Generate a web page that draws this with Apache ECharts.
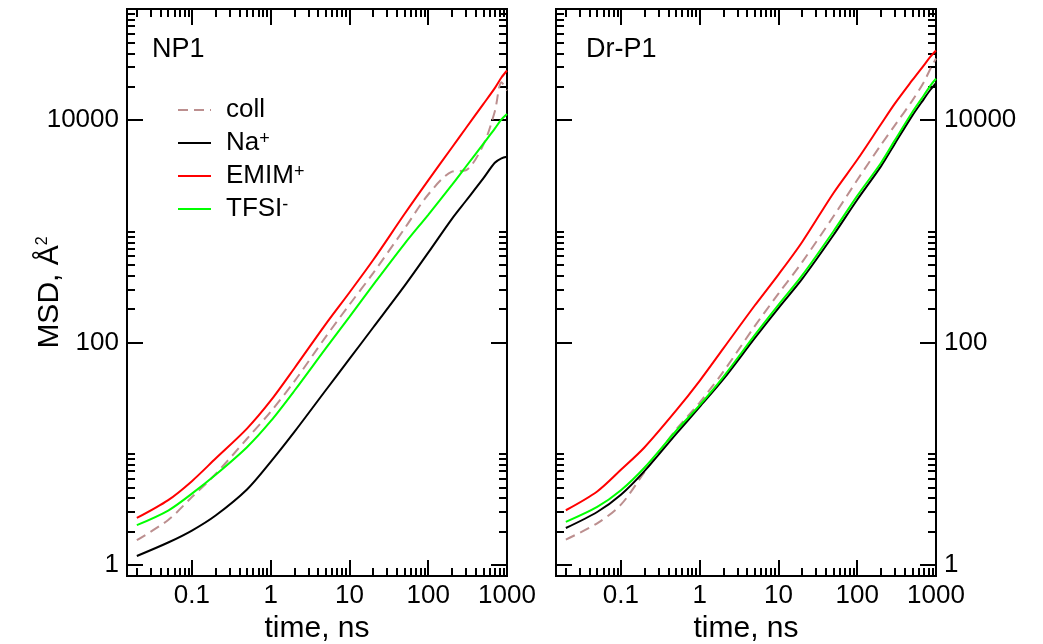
<!DOCTYPE html>
<html>
<head>
<meta charset="utf-8">
<script src="https://cdn.jsdelivr.net/npm/echarts@6/dist/echarts.min.js"></script>
<style>
  html, body { margin: 0; padding: 0; background: #fff; }
  #chart { width: 1043px; height: 644px; }
</style>
</head>
<body>
<div id="chart"></div>
<script>
// time axis (ns) shared by every curve
var timeNs = [0.02, 0.05, 0.1, 0.2, 0.5, 1, 2, 5, 10, 20, 50, 100, 200, 300, 500, 700, 850, 1000];

// MSD, A^2 -- panel NP1
var np1Coll = [1.68, 2.55, 4.1, 6.6, 13.7, 24, 45, 113, 220, 423, 1060, 2150, 3450, 3550, 6000, 12000, 22000, 18500];
var np1Na   = [1.21, 1.6, 2.05, 2.8, 4.8, 8.5, 15.8, 37.4, 71.5, 137, 324, 645, 1300, 1880, 3000, 4150, 4550, 4700];
var np1Emim = [2.66, 3.85, 5.7, 9.1, 16.9, 30.1, 59, 147, 283, 554, 1435, 2880, 5690, 8470, 13960, 19450, 24200, 28000];
var np1Tfsi = [2.29, 3.1, 4.4, 6.5, 11.5, 19.7, 37, 89, 171, 331, 775, 1413, 2620, 3820, 6140, 8400, 10170, 11400];

// MSD, A^2 -- panel Dr-P1
var drColl = [1.70, 2.38, 3.5, 6.9, 16.5, 29, 55, 141, 276, 531, 1370, 2900, 6000, 9000, 15000, 22000, 29000, 35900];
var drNa   = [2.16, 3.01, 4.3, 7.05, 15.1, 26.5, 47, 110, 205, 375, 930, 1930, 3850, 6150, 11000, 15500, 18800, 21500];
var drEmim = [3.12, 4.6, 7.2, 11.5, 24.5, 45.5, 89, 216, 410, 805, 2220, 4410, 9200, 14100, 22900, 31200, 37300, 42400];
var drTfsi = [2.45, 3.34, 4.72, 7.56, 16.1, 27.5, 49.4, 117, 219, 403, 1006, 2090, 4130, 6590, 11780, 16700, 20500, 23600];

// tick labels
var xMajor = [0.1, 1, 10, 100, 1000];
var yMajor = [1, 100, 10000];

var xMinor = [];
[0.01, 0.1, 1, 10, 100].forEach(function (d) {
  for (var k = 2; k <= 9; k++) xMinor.push(Number((k * d).toPrecision(3)));
});
var yMinor = [];
[1, 100, 10000].forEach(function (d) {
  for (var k = 2; k <= 10; k++) yMinor.push(Number((k * d).toPrecision(3)));
});

var FONT = '"Liberation Sans", Arial, Helvetica, sans-serif';
var supRich = {
  sup: { fontSize: 18, verticalAlign: 'top', lineHeight: 26, fontFamily: FONT, color: '#000' }
};

function fmt(v) { return String(Number((+v).toPrecision(3))); }

function tick(values, len) {
  return { show: true, inside: true, length: len, customValues: values,
           lineStyle: { color: '#000', width: 2 } };
}

function xAxes(gi) {
  var base = { gridIndex: gi, type: 'log', logBase: 10, min: 0.015, max: 1000,
               splitLine: { show: false }, axisLine: { show: false } };
  return [
    Object.assign({}, base, {
      position: 'bottom', axisTick: tick(xMajor, 16),
      axisLabel: { customValues: xMajor, formatter: fmt, margin: 7, fontSize: 26,
                   color: '#000', fontFamily: FONT },
      name: 'time, ns', nameLocation: 'middle', nameGap: 36,
      nameTextStyle: { fontSize: 30, color: '#000', fontFamily: FONT }
    }),
    Object.assign({}, base, { position: 'bottom', axisTick: tick(xMinor, 8), axisLabel: { show: false } }),
    Object.assign({}, base, { position: 'top', axisTick: tick(xMajor, 16), axisLabel: { show: false } }),
    Object.assign({}, base, { position: 'top', axisTick: tick(xMinor, 8), axisLabel: { show: false } })
  ];
}

function yAxes(gi, labelSide) {
  var base = { gridIndex: gi, type: 'log', logBase: 10, min: 0.8, max: 100000,
               splitLine: { show: false }, axisLine: { show: false } };
  var lab = { customValues: yMajor, formatter: fmt, margin: 8, fontSize: 26,
              color: '#000', fontFamily: FONT };
  var left = Object.assign({}, base, { position: 'left', axisTick: tick(yMajor, 16),
      axisLabel: labelSide === 'left' ? lab : { show: false } });
  if (labelSide === 'left') {
    left.name = 'MSD, Å{sup|2}';
    left.nameLocation = 'middle';
    left.nameGap = 62;
    left.nameMoveOverlap = false;
    left.nameTextStyle = { fontSize: 30, color: '#000', fontFamily: FONT, rich: {
      sup: { fontSize: 16, verticalAlign: 'top', fontFamily: FONT, color: '#000' } } };
  }
  return [
    left,
    Object.assign({}, base, { position: 'left', axisTick: tick(yMinor, 8), axisLabel: { show: false } }),
    Object.assign({}, base, { position: 'right', axisTick: tick(yMajor, 16),
      axisLabel: labelSide === 'right' ? lab : { show: false } }),
    Object.assign({}, base, { position: 'right', axisTick: tick(yMinor, 8), axisLabel: { show: false } })
  ];
}

function pairs(vals) {
  return timeNs.map(function (t, i) { return [t, vals[i]]; });
}

function line(name, vals, color, gi, dashed) {
  return {
    name: name, type: 'line', xAxisIndex: gi * 4, yAxisIndex: gi * 4,
    data: pairs(vals), symbol: 'none', smooth: 0.3,
    lineStyle: { color: color, width: 2, type: dashed ? [10, 6] : 'solid' },
    itemStyle: { color: color }
  };
}

var chart = echarts.init(document.getElementById('chart'));
chart.setOption({
  animation: false,
  backgroundColor: '#fff',
  title: [
    { text: 'NP1', left: 152, top: 36, padding: 0,
      textStyle: { fontSize: 27, fontWeight: 'normal', color: '#000', fontFamily: FONT } },
    { text: 'Dr-P1', left: 586, top: 36, padding: 0,
      textStyle: { fontSize: 27, fontWeight: 'normal', color: '#000', fontFamily: FONT } }
  ],
  legend: {
    data: ['coll', 'Na', 'EMIM', 'TFSI'],
    orient: 'vertical', left: 177, top: 97, padding: 0,
    itemWidth: 33, itemHeight: 14, itemGap: 7,
    selectedMode: false,
    itemStyle: { opacity: 0 },
    formatter: function (n) {
      if (n === 'Na') return 'Na{sup|+}';
      if (n === 'EMIM') return 'EMIM{sup|+}';
      if (n === 'TFSI') return 'TFSI{sup|-}';
      return n;
    },
    textStyle: { fontSize: 26, lineHeight: 26, color: '#000', fontFamily: FONT,
                 padding: [0, 0, 0, 10], rich: supRich }
  },
  grid: [
    { left: 127, top: 9, width: 380, height: 567, show: true, borderColor: '#000',
      borderWidth: 2, containLabel: false, outerBoundsMode: 'none' },
    { left: 556, top: 9, width: 380, height: 567, show: true, borderColor: '#000',
      borderWidth: 2, containLabel: false, outerBoundsMode: 'none' }
  ],
  xAxis: xAxes(0).concat(xAxes(1)),
  yAxis: yAxes(0, 'left').concat(yAxes(1, 'right')),
  series: [
    line('coll', np1Coll, '#bc8f8f', 0, true),
    line('Na', np1Na, '#000000', 0, false),
    line('EMIM', np1Emim, '#ff0000', 0, false),
    line('TFSI', np1Tfsi, '#00ff00', 0, false),
    line('coll', drColl, '#bc8f8f', 1, true),
    line('Na', drNa, '#000000', 1, false),
    line('EMIM', drEmim, '#ff0000', 1, false),
    line('TFSI', drTfsi, '#00ff00', 1, false)
  ]
});
</script>
</body>
</html>
